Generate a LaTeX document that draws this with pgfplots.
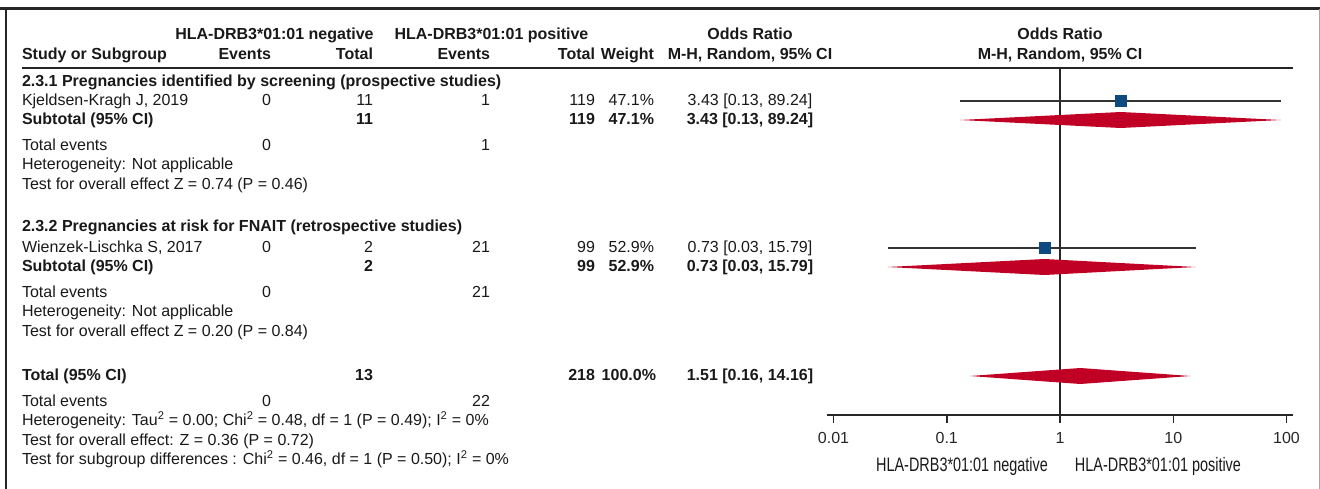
\documentclass[border=0pt]{standalone}
\usepackage{pgfplots}
\pgfplotsset{compat=1.18}
\usepackage{fontspec}
\setmainfont{Liberation Sans}
\newfontfamily\narrowfont[FakeStretch=0.74]{Liberation Sans}
\definecolor{fpblue}{RGB}{14,74,128}
\definecolor{fpred}{RGB}{192,0,36}

% odds ratio, lower, upper, row (y = -pixel row)
\pgfplotstableread{
or    lo    hi     y
3.43  0.13  89.24  -101
0.73  0.03  15.79  -248
}\studies

\begin{document}
\begin{tikzpicture}
\path[use as bounding box] (0pt,0pt) rectangle (1320pt,-489pt);

\begin{axis}[
  at={(827pt,-415pt)}, anchor=south west,
  scale only axis, width=466pt, height=347pt,
  xmode=log, xmin=0.008763, xmax=114.1,
  ymin=-415, ymax=-68,
  axis x line*=bottom, axis y line=none,
  axis line style={line width=2pt, black!85},
  xtick={0.01,0.1,1,10,100},
  xticklabels={0.01,0.1,1,10,100},
  xminorticks=false,
  tick align=outside, major tick length=8pt,
  every tick/.style={black!85, line width=1.5pt},
  xticklabel style={font=\fontsize{16}{18}\selectfont, text=black!85, yshift=-6pt},
  clip=false,
]
% line of no effect
\addplot[black!85, line width=2pt] coordinates {(1,-68) (1,-415)};
% study confidence intervals
\addplot[black!80, line width=1.3pt] coordinates {(0.13,-101) (89.24,-101)};
\addplot[black!80, line width=1.3pt] coordinates {(0.03,-248) (15.79,-248)};
% study point estimates
\addplot[only marks, mark=square*, mark size=5.5pt,
  mark options={fill=fpblue, draw=fpblue}] table[x=or, y=y] {\studies};
% subtotal and total diamonds
\addplot[fill=fpred, draw=none] coordinates {(0.13,-120) (3.43,-112) (89.24,-120) (3.43,-128)} -- cycle;
\addplot[fill=fpred, draw=none] coordinates {(0.03,-267) (0.73,-259) (15.79,-267) (0.73,-275)} -- cycle;
\addplot[fill=fpred, draw=none] coordinates {(0.16,-376) (1.51,-368) (14.16,-376) (1.51,-384)} -- cycle;
\end{axis}

\begin{scope}[x=1pt, y=-1pt,
  every node/.style={inner sep=0pt, outer sep=0pt, yshift=-1.5pt, text=black!90, font=\fontsize{16}{18}\selectfont},
  L/.style={anchor=mid west}, R/.style={anchor=mid east}, C/.style={anchor=mid},
  B/.style={font=\fontsize{16}{18}\selectfont\bfseries}]
% frame
\draw[line width=3pt, black!85] (0,9) -- (1320,9);
\draw[line width=2.5pt, black!85] (6,9) -- (6,489);
\draw[line width=1pt, black!35] (1319,9) -- (1319,489);
\draw[line width=2pt, black!85] (22,68) -- (1293,68);

% header
\node[C,B] at (274.5,35) {HLA-DRB3*01:01 negative};
\node[C,B] at (491.5,35) {HLA-DRB3*01:01 positive};
\node[C,B] at (750,35) {Odds Ratio};
\node[C,B] at (1060,35) {Odds Ratio};
\node[L,B] at (22,55) {Study or Subgroup};
\node[R,B] at (271,55) {Events};
\node[R,B] at (373,55) {Total};
\node[R,B] at (490,55) {Events};
\node[R,B] at (595,55) {Total};
\node[R,B] at (654,55) {Weight};
\node[C,B] at (750,55) {M-H, Random, 95\% CI};
\node[C,B] at (1060,55) {M-H, Random, 95\% CI};

% subgroup 2.3.1
\node[L,B] at (22,82) {2.3.1 Pregnancies identified by screening (prospective studies)};
\node[L] at (22,101) {Kjeldsen-Kragh J, 2019};
\node[R] at (271,101) {0};
\node[R] at (373,101) {11};
\node[R] at (490,101) {1};
\node[R] at (595,101) {119};
\node[R] at (654,101) {47.1\%};
\node[C] at (750,101) {3.43 [0.13, 89.24]};
\node[L,B] at (22,120) {Subtotal (95\% CI)};
\node[R,B] at (373,120) {11};
\node[R,B] at (595,120) {119};
\node[R,B] at (654,120) {47.1\%};
\node[C,B] at (750,120) {3.43 [0.13, 89.24]};
\node[L] at (22,146) {Total events};
\node[R] at (271,146) {0};
\node[R] at (490,146) {1};
\node[L] at (22,165.5) {Heterogeneity: Not applicable};
\node[L] at (22,185) {Test for overall effect Z = 0.74 (P = 0.46)};

% subgroup 2.3.2
\node[L,B] at (22,227) {2.3.2 Pregnancies at risk for FNAIT (retrospective studies)};
\node[L] at (22,248) {Wienzek-Lischka S, 2017};
\node[R] at (271,248) {0};
\node[R] at (373,248) {2};
\node[R] at (490,248) {21};
\node[R] at (595,248) {99};
\node[R] at (654,248) {52.9\%};
\node[C] at (750,248) {0.73 [0.03, 15.79]};
\node[L,B] at (22,267) {Subtotal (95\% CI)};
\node[R,B] at (373,267) {2};
\node[R,B] at (595,267) {99};
\node[R,B] at (654,267) {52.9\%};
\node[C,B] at (750,267) {0.73 [0.03, 15.79]};
\node[L] at (22,293) {Total events};
\node[R] at (271,293) {0};
\node[R] at (490,293) {21};
\node[L] at (22,312.5) {Heterogeneity: Not applicable};
\node[L] at (22,332) {Test for overall effect Z = 0.20 (P = 0.84)};

% overall
\node[L,B] at (22,376) {Total (95\% CI)};
\node[R,B] at (373,376) {13};
\node[R,B] at (595,376) {218};
\node[R,B] at (656,376) {100.0\%};
\node[C,B] at (750,376) {1.51 [0.16, 14.16]};
\node[L] at (22,402) {Total events};
\node[R] at (271,402) {0};
\node[R] at (490,402) {22};
\node[L] at (22,421.5) {Heterogeneity: Tau\textsuperscript{2} = 0.00; Chi\textsuperscript{2} = 0.48, df = 1 (P = 0.49); I\textsuperscript{2} = 0\%};
\node[L] at (22,441) {Test for overall effect: Z = 0.36 (P = 0.72)};
\node[L] at (22,460.5) {Test for subgroup differences : Chi\textsuperscript{2} = 0.46, df = 1 (P = 0.50); I\textsuperscript{2} = 0\%};

% favours labels
\node[C, yshift=0pt, font=\narrowfont\fontsize{19.5}{22}\selectfont] at (962,467) {HLA-DRB3*01:01 negative};
\node[C, yshift=0pt, font=\narrowfont\fontsize{19.5}{22}\selectfont] at (1158,467) {HLA-DRB3*01:01 positive};
\end{scope}
\end{tikzpicture}
\end{document}
